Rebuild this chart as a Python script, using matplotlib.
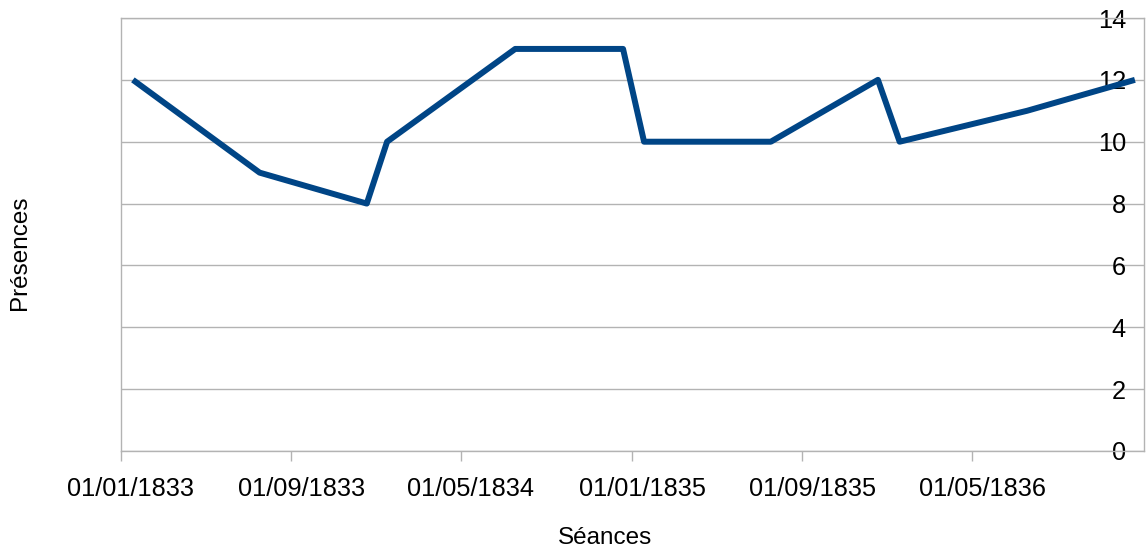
import matplotlib
matplotlib.use("Agg")
import matplotlib.pyplot as plt
import matplotlib.dates as mdates
import matplotlib.ticker as mticker
import matplotlib.transforms as mtransforms
import pandas as pd

plt.rcParams['font.family'] = ['Liberation Sans', 'DejaVu Sans']

# Session dates and attendance counts
seances = ["1833-01-18", "1833-07-18", "1833-12-18", "1834-01-16",
           "1834-07-18", "1834-12-19", "1835-01-18", "1835-07-18",
           "1835-12-18", "1836-01-18", "1836-07-18", "1836-12-19"]
presences = [12, 9, 8, 10, 13, 13, 10, 10, 12, 10, 11, 12]

x_start = "1833-01-01"
x_end = "1837-01-01"
x_ticks = ["1833-01-01", "1833-09-01", "1834-05-01",
           "1835-01-01", "1835-09-01", "1836-05-01"]
y_ticks = [0, 2, 4, 6, 8, 10, 12, 14]

dates = pd.to_datetime(seances)
grid_col = "#b3b3b3"
line_col = "#004586"

fig = plt.figure(figsize=(11.47, 5.58), dpi=100)
ax = fig.add_axes([121 / 1147, 107 / 558, 1023 / 1147, 433 / 558])

ax.plot(dates, presences, color=line_col, linewidth=4.3,
        solid_joinstyle='round', solid_capstyle='butt', zorder=3)

ax.set_xlim(pd.Timestamp(x_start), pd.Timestamp(x_end))
ax.set_ylim(0, 14)

tick_pos = mdates.date2num(pd.to_datetime(x_ticks).to_pydatetime())
ax.xaxis.set_major_locator(mticker.FixedLocator(tick_pos))
ax.xaxis.set_major_formatter(mdates.DateFormatter("%d/%m/%Y"))
ax.set_yticks(y_ticks)

ax.grid(axis='y', color=grid_col, linewidth=1.0)
ax.set_axisbelow(True)
for s in ax.spines.values():
    s.set_color(grid_col)
    s.set_linewidth(1.0)

ax.tick_params(axis='x', direction='out', length=7.2, width=1.0, color=grid_col,
               labelsize=18.3, pad=11.5)
ax.tick_params(axis='y', left=False, right=False, labelleft=False, labelright=True,
               labelsize=18.3, pad=-13, length=0)
for lbl in ax.get_yticklabels():
    lbl.set_horizontalalignment('right')

# date labels sit slightly to the right of their ticks
shift = mtransforms.ScaledTranslation(10 / 100, 0, fig.dpi_scale_trans)
for lbl in ax.get_xticklabels():
    lbl.set_transform(lbl.get_transform() + shift)

ax.set_xlabel("Séances", fontsize=17.5)
ax.xaxis.set_label_coords((605 - 121) / 1023, (451 - 538) / 433)
ax.xaxis.label.set_verticalalignment('center')
ax.set_ylabel("Présences", fontsize=17.5)
ax.yaxis.set_label_position('left')
ax.yaxis.set_label_coords((20 - 121) / 1023, (451 - 253) / 433)
ax.yaxis.label.set_verticalalignment('center')

fig.savefig("out.png", dpi=100)
